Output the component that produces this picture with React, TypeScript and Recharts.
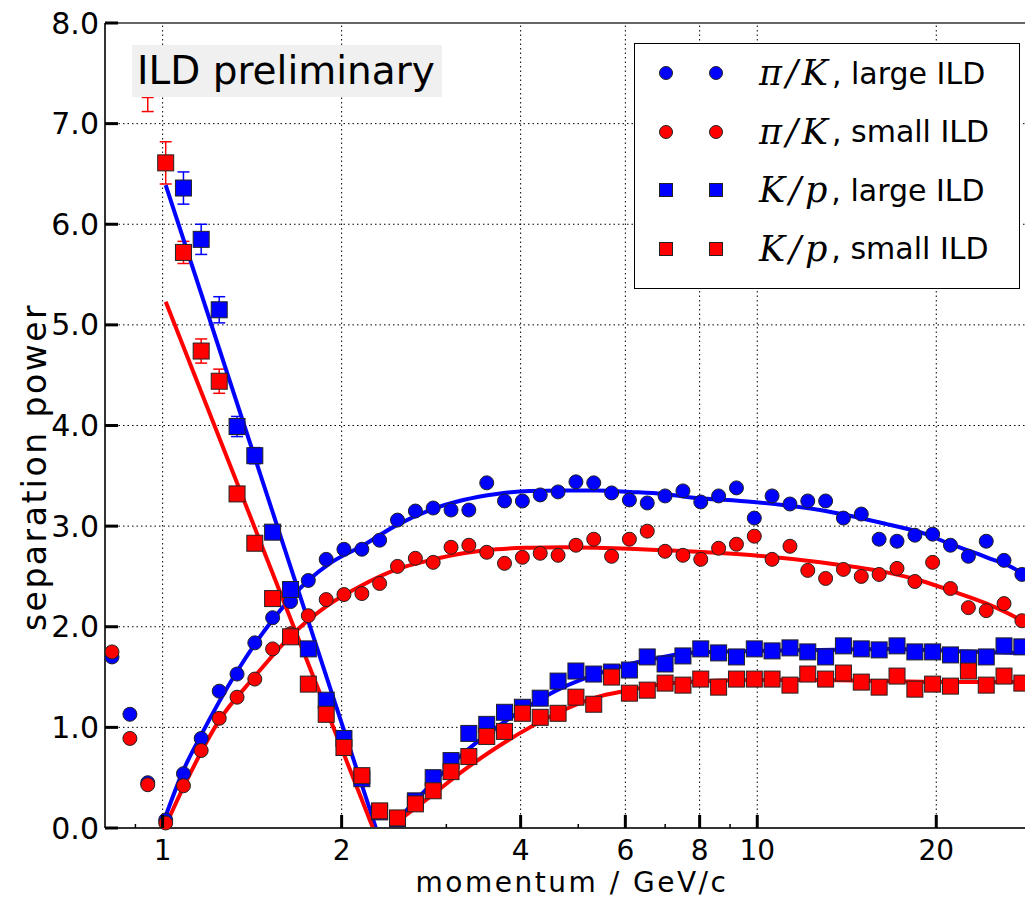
import React from "react";
import {
  ComposedChart,
  Scatter,
  Line,
  XAxis,
  YAxis,
  ErrorBar,
  ReferenceLine,
  Legend,
} from "recharts";

// momentum bin centres in GeV/c (equally spaced in log p)
const MOMENTUM = [
  0.822, 0.881, 0.944, 1.012, 1.084, 1.161, 1.245, 1.334, 1.429, 1.531, 1.641, 1.758, 1.884,
  2.018, 2.163, 2.317, 2.483, 2.661, 2.851, 3.055, 3.273, 3.508, 3.758, 4.027, 4.315, 4.624,
  4.955, 5.309, 5.689, 6.095, 6.531, 6.998, 7.499, 8.035, 8.61, 9.226, 9.886, 10.59, 11.35,
  12.16, 13.03, 13.96, 14.96, 16.03, 17.18, 18.41, 19.72, 21.13, 22.65, 24.27, 26.0, 27.86,
];

// pi/K separation, large ILD
const PIK_LARGE = [
  1.7, 1.13, 0.45, 0.08, 0.54, 0.89, 1.36, 1.53, 1.84, 2.09, 2.25, 2.46, 2.67, 2.77, 2.77, 2.86,
  3.06, 3.15, 3.18, 3.16, 3.16, 3.43, 3.25, 3.25, 3.31, 3.34, 3.44, 3.43, 3.33, 3.26, 3.23, 3.3,
  3.35, 3.24, 3.3, 3.38, 3.08, 3.3, 3.22, 3.25, 3.25, 3.08, 3.12, 2.87, 2.85, 2.91, 2.92, 2.81,
  2.7, 2.85, 2.66, 2.52,
];

// pi/K separation, small ILD
const PIK_SMALL = [
  1.75, 0.89, 0.43, 0.05, 0.42, 0.77, 1.09, 1.3, 1.48, 1.78, 1.93, 2.11, 2.27, 2.32, 2.33, 2.43,
  2.6, 2.68, 2.64, 2.79, 2.81, 2.74, 2.63, 2.69, 2.73, 2.71, 2.81, 2.87, 2.7, 2.87, 2.95, 2.75,
  2.71, 2.67, 2.78, 2.82, 2.9, 2.67, 2.8, 2.56, 2.48, 2.57, 2.5, 2.52, 2.58, 2.45, 2.64, 2.38,
  2.19, 2.16, 2.23, 2.06,
];

// K/p separation, large ILD
const KP_LARGE = [
  null, null, null, null, 6.36, 5.85, 5.15, 3.99, 3.7, 2.94, 2.37, 1.78, 1.27, 0.89, 0.49, 0.16,
  0.09, 0.27, 0.5, 0.67, 0.94, 1.03, 1.15, 1.2, 1.29, 1.46, 1.56, 1.53, 1.55, 1.57, 1.7, 1.63,
  1.71, 1.78, 1.74, 1.7, 1.78, 1.76, 1.79, 1.75, 1.7, 1.81, 1.78, 1.77, 1.81, 1.75, 1.75, 1.72,
  1.69, 1.7, 1.81, 1.8,
];
const KP_LARGE_ERR = [
  null, null, null, null, 0.16, 0.15, 0.13, 0.1, 0.08, 0.06, 0.05,
];

// K/p separation, small ILD
const KP_SMALL = [
  null, null, null, 6.61, 5.72, 4.74, 4.44, 3.32, 2.83, 2.28, 1.9, 1.43, 1.13, 0.8, 0.52, 0.17,
  0.1, 0.24, 0.37, 0.56, 0.71, 0.91, 0.96, 1.14, 1.1, 1.14, 1.3, 1.23, 1.5, 1.34, 1.37, 1.44,
  1.42, 1.48, 1.4, 1.48, 1.48, 1.48, 1.42, 1.53, 1.48, 1.54, 1.45, 1.4, 1.51, 1.38, 1.43, 1.41,
  1.56, 1.42, 1.51, 1.44,
];
const KP_SMALL_ERR = [null, null, null, 0.21, 0.11, 0.12, 0.12, 0.07, 0.07, 0.05];

// lone error bar without marker near the top left
const KP_SMALL_STRAY = [{ p: 0.944, v: 7.19, e: 0.07 }];

// fitted curves
const FIT_PIK_LARGE_P = [
  1.005, 1.083, 1.16, 1.332, 1.527, 1.757, 1.911, 2.175, 2.475, 2.815, 3.203, 3.645, 4.147,
  4.718, 5.37, 6.108, 6.949, 7.608, 9.847, 12.75, 16.51, 18.78, 21.37, 24.31, 27.66, 28.2,
];
const FIT_PIK_LARGE_V = [
  0.07, 0.57, 0.92, 1.55, 2.06, 2.46, 2.63, 2.81, 3.01, 3.16, 3.26, 3.32, 3.35, 3.355, 3.355,
  3.34, 3.32, 3.29, 3.24, 3.16, 3.02, 2.94, 2.81, 2.69, 2.54, 2.5,
];
const FIT_PIK_SMALL_P = [
  1.013, 1.087, 1.245, 1.426, 1.637, 1.882, 2.161, 2.475, 2.815, 3.203, 3.645, 4.147, 4.718,
  5.37, 6.108, 6.949, 7.608, 9.847, 12.75, 16.51, 18.78, 21.37, 24.31, 27.66, 28.2,
];
const FIT_PIK_SMALL_V = [
  0.03, 0.42, 1.07, 1.5, 1.9, 2.2, 2.41, 2.57, 2.66, 2.73, 2.77, 2.785, 2.79, 2.785, 2.775, 2.76,
  2.75, 2.71, 2.64, 2.54, 2.46, 2.35, 2.23, 2.07, 2.04,
];
const FIT_KP_LARGE_FALL_P = [1.012, 2.284];
const FIT_KP_LARGE_FALL_V = [6.39, 0];
const FIT_KP_SMALL_FALL_P = [1.012, 2.258];
const FIT_KP_SMALL_FALL_V = [5.23, 0];
const FIT_KP_RISE_P = [
  2.475, 2.815, 3.203, 3.645, 4.147, 4.718, 5.37, 6.108, 6.949, 7.608, 9.847, 12.75, 16.51,
  21.37, 27.66, 28.2,
];
const FIT_KP_LARGE_RISE_V = [
  0.07, 0.42, 0.74, 1.0, 1.22, 1.4, 1.53, 1.63, 1.7, 1.74, 1.76, 1.77, 1.78, 1.76, 1.74, 1.74,
];
const FIT_KP_SMALL_RISE_V = [
  0.06, 0.31, 0.57, 0.8, 1.0, 1.17, 1.3, 1.37, 1.43, 1.45, 1.47, 1.47, 1.46, 1.45, 1.45, 1.45,
];

const X_MAJOR = [1, 2, 4, 6, 8, 10, 20];
const X_MINOR = [0.9, 3, 5, 7, 9];
const Y_TICKS = [0, 1, 2, 3, 4, 5, 6, 7, 8];
const Y_GRID = [1, 2, 3, 4, 5, 6, 7];

const BLUE = "#0000ff";
const RED = "#ff0000";
const SANS = '"DejaVu Sans", sans-serif';

const LEGEND_ROWS = [
  { math: "π/K", text: ", large ILD", color: BLUE, square: false },
  { math: "π/K", text: ", small ILD", color: RED, square: false },
  { math: "K/p", text: ", large ILD", color: BLUE, square: true },
  { math: "K/p", text: ", small ILD", color: RED, square: true },
];

type Pt = { p: number; v: number; e?: number | null };

function points(vals: (number | null)[], errs?: (number | null)[]): Pt[] {
  const out: Pt[] = [];
  MOMENTUM.forEach((p, i) => {
    const v = vals[i];
    if (v == null) return;
    out.push({ p, v, e: errs ? errs[i] ?? null : null });
  });
  return out;
}

function curve(ps: number[], vs: number[]): Pt[] {
  return ps.map((p, i) => ({ p, v: vs[i] }));
}

const circleShape = (color: string) => (props: any) => (
  <circle cx={props.cx} cy={props.cy} r={7} fill={color} stroke="#222" strokeWidth={1} />
);
const squareShape = (color: string) => (props: any) => (
  <rect
    x={props.cx - 8}
    y={props.cy - 8}
    width={16}
    height={16}
    fill={color}
    stroke="#222"
    strokeWidth={1}
  />
);
const noShape = () => <g />;

function XTick({ x, y, payload }: any) {
  const v = payload.value;
  const major = X_MAJOR.includes(v);
  return (
    <g>
      <line
        x1={x}
        x2={x}
        y1={y}
        y2={y - (major ? 13 : 4)}
        stroke="#000"
        strokeWidth={major ? 3 : 1.5}
      />
      {major && (
        <text
          x={x}
          y={y + 22}
          textAnchor="middle"
          dominantBaseline="central"
          fontFamily={SANS}
          fontSize={28}
          fill="#000"
        >
          {v}
        </text>
      )}
    </g>
  );
}

function YTick({ x, y, payload }: any) {
  return (
    <g>
      <line x1={x} x2={x + 13} y1={y} y2={y} stroke="#000" strokeWidth={3} />
      <text
        x={x - 6}
        y={y}
        textAnchor="end"
        dominantBaseline="central"
        fontFamily={SANS}
        fontSize={30}
        fill="#000"
      >
        {payload.value.toFixed(1)}
      </text>
    </g>
  );
}

function XTitle() {
  return (
    <text
      x={572}
      y={892}
      textAnchor="middle"
      fontFamily={SANS}
      fontSize={28}
      letterSpacing={2.5}
      fill="#000"
    >
      momentum / GeV/c
    </text>
  );
}

// y-axis title, centred a little below the plot middle as in the original
function YTitle() {
  return (
    <text
      transform="translate(34, 467) rotate(-90)"
      textAnchor="middle"
      dominantBaseline="central"
      fontFamily={SANS}
      fontSize={33}
      letterSpacing={2.5}
      fill="#000"
    >
      separation power
    </text>
  );
}

function LegendBox() {
  return (
    <div
      style={{
        boxSizing: "border-box",
        width: 386,
        height: 246,
        border: "1.5px solid #000",
        background: "#fff",
        position: "relative",
      }}
    >
      {LEGEND_ROWS.map((row, k) => (
        <div
          key={k}
          style={{
            position: "absolute",
            left: 0,
            top: 29 + k * 58.5 - 22,
            height: 44,
            display: "flex",
            alignItems: "center",
            whiteSpace: "nowrap",
          }}
        >
          <svg width={110} height={44} style={{ marginLeft: 8 }}>
            {[23, 73].map((cx) =>
              row.square ? (
                <rect key={cx} x={cx - 6.5} y={15.5} width={13} height={13} fill={row.color} stroke="#222" strokeWidth={1} />
              ) : (
                <circle key={cx} cx={cx} cy={22} r={6.5} fill={row.color} stroke="#222" strokeWidth={1} />
              )
            )}
          </svg>
          <span
            style={{
              marginLeft: 6,
              fontFamily: '"DejaVu Serif", serif',
              fontStyle: "italic",
              fontSize: 35,
              letterSpacing: 4,
            }}
          >
            {row.math}
          </span>
          <span style={{ fontFamily: SANS, fontSize: 30 }}>{row.text}</span>
        </div>
      ))}
    </div>
  );
}

export default function App() {
  return (
    <div style={{ position: "fixed", left: 0, top: 0, width: 1025, height: 905, background: "#fff" }}>
      <ComposedChart width={1025} height={905} margin={{ top: 23, right: 0, bottom: 0, left: 0 }}>
        <XAxis
          dataKey="p"
          type="number"
          scale="log"
          domain={[0.8, 28.2]}
          allowDataOverflow
          ticks={[...X_MINOR, ...X_MAJOR].sort((a, b) => a - b)}
          interval={0}
          tickSize={0}
          tickMargin={0}
          tick={<XTick />}
          height={77}
          axisLine={{ stroke: "#333", strokeWidth: 2 }}
          label={{ content: () => <XTitle /> }}
        />
        <YAxis
          dataKey="v"
          type="number"
          domain={[0, 8]}
          ticks={Y_TICKS}
          interval={0}
          tickSize={0}
          tickMargin={0}
          tick={<YTick />}
          width={105}
          axisLine={{ stroke: "#333", strokeWidth: 2 }}
          label={{ content: () => <YTitle /> }}
        />

        {X_MAJOR.map((v) => (
          <ReferenceLine key={"gx" + v} x={v} stroke="#000" strokeWidth={1} strokeDasharray="1.5 3" />
        ))}
        {Y_GRID.map((v) => (
          <ReferenceLine key={"gy" + v} y={v} stroke="#000" strokeWidth={1} strokeDasharray="1.5 3" />
        ))}
        <ReferenceLine y={8} stroke="#333" strokeWidth={1.5} />

        <Legend
          layout="horizontal"
          verticalAlign="middle"
          align="center"
          wrapperStyle={{ top: 43, left: 634, width: 386, height: 246 }}
          content={() => <LegendBox />}
        />

        <Scatter data={points(PIK_LARGE)} shape={circleShape(BLUE)} isAnimationActive={false} />
        <Scatter data={points(PIK_SMALL)} shape={circleShape(RED)} isAnimationActive={false} />
        <Scatter data={points(KP_LARGE, KP_LARGE_ERR)} shape={squareShape(BLUE)} isAnimationActive={false}>
          <ErrorBar dataKey="e" direction="y" width={6} stroke={BLUE} strokeWidth={1.5} />
        </Scatter>
        <Scatter data={points(KP_SMALL, KP_SMALL_ERR)} shape={squareShape(RED)} isAnimationActive={false}>
          <ErrorBar dataKey="e" direction="y" width={6} stroke={RED} strokeWidth={1.5} />
        </Scatter>
        <Scatter data={KP_SMALL_STRAY} shape={noShape} isAnimationActive={false}>
          <ErrorBar dataKey="e" direction="y" width={6} stroke={RED} strokeWidth={1.5} />
        </Scatter>

        <Line data={curve(FIT_PIK_LARGE_P, FIT_PIK_LARGE_V)} dataKey="v" type="monotone" stroke={BLUE} strokeWidth={4} dot={false} isAnimationActive={false} />
        <Line data={curve(FIT_PIK_SMALL_P, FIT_PIK_SMALL_V)} dataKey="v" type="monotone" stroke={RED} strokeWidth={4} dot={false} isAnimationActive={false} />
        <Line data={curve(FIT_KP_LARGE_FALL_P, FIT_KP_LARGE_FALL_V)} dataKey="v" type="linear" stroke={BLUE} strokeWidth={4} dot={false} isAnimationActive={false} />
        <Line data={curve(FIT_KP_SMALL_FALL_P, FIT_KP_SMALL_FALL_V)} dataKey="v" type="linear" stroke={RED} strokeWidth={4} dot={false} isAnimationActive={false} />
        <Line data={curve(FIT_KP_RISE_P, FIT_KP_LARGE_RISE_V)} dataKey="v" type="monotone" stroke={BLUE} strokeWidth={4} dot={false} isAnimationActive={false} />
        <Line data={curve(FIT_KP_RISE_P, FIT_KP_SMALL_RISE_V)} dataKey="v" type="monotone" stroke={RED} strokeWidth={4} dot={false} isAnimationActive={false} />
      </ComposedChart>

      <div
        style={{
          position: "absolute",
          left: 132,
          top: 45,
          width: 310,
          height: 52,
          background: "#f0f0f0",
          fontFamily: SANS,
          fontSize: 39,
          lineHeight: "52px",
          color: "#000",
          paddingLeft: 5,
          boxSizing: "border-box",
          whiteSpace: "nowrap",
        }}
      >
        ILD preliminary
      </div>
    </div>
  );
}
